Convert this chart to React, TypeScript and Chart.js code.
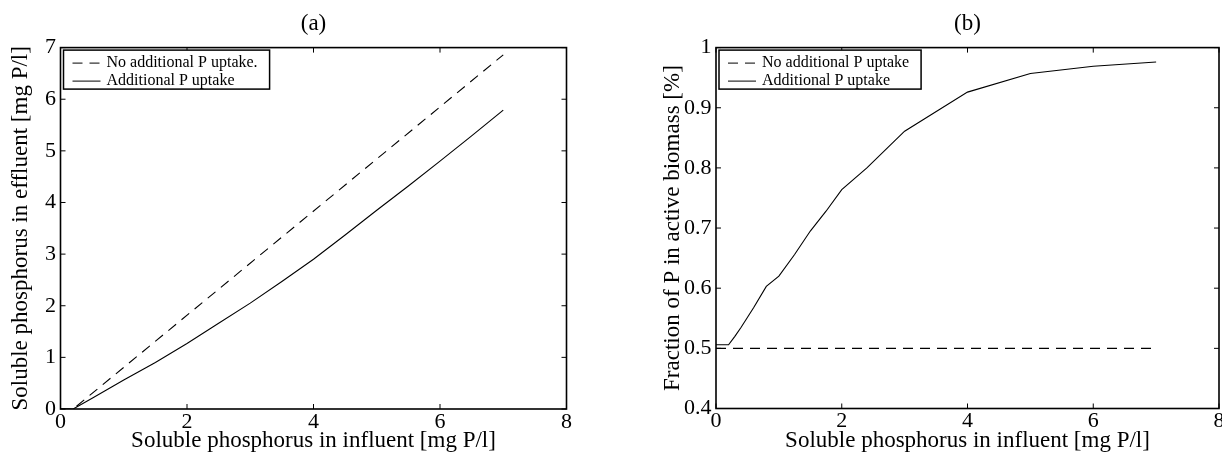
import React, { useEffect, useRef } from "react";
import { Chart, registerables } from "chart.js";

Chart.register(...registerables);

const FONT = "'Liberation Serif', 'Times New Roman', Times, serif";

// ---------- Panel (a) ----------
const titleA = "(a)";
const xLabelA = "Soluble phosphorus in influent [mg P/l]";
const yLabelA = "Soluble phosphorus in effluent [mg P/l]";
const legendA = ["No additional P uptake.", "Additional P uptake"];
const influentNoUptakeA = [0, 0.2, 7];
const effluentNoUptakeA = [0, 0, 6.86];
const influentUptakeA = [0, 0.2, 0.5, 1, 1.5, 2, 2.5, 3, 3.5, 4, 4.5, 5, 5.5, 6, 6.5, 7];
const effluentUptakeA = [0, 0, 0.21, 0.56, 0.9, 1.27, 1.66, 2.05, 2.47, 2.9, 3.37, 3.85, 4.32, 4.8, 5.29, 5.79];
const xRangeA = [0, 8, 2];
const yRangeA = [0, 7, 1];

// ---------- Panel (b) ----------
const titleB = "(b)";
const xLabelB = "Soluble phosphorus in influent [mg P/l]";
const yLabelB = "Fraction of P in active biomass [%]";
const legendB = ["No additional P uptake", "Additional P uptake"];
const influentNoUptakeB = [0, 7];
const fractionNoUptakeB = [0.5, 0.5];
const influentUptakeB = [0, 0.2, 0.3, 0.4, 0.6, 0.8, 1, 1.25, 1.5, 1.75, 2, 2.4, 3, 4, 5, 6, 7];
const fractionUptakeB = [0.506, 0.506, 0.52, 0.535, 0.568, 0.603, 0.62, 0.656, 0.695, 0.728, 0.764, 0.8, 0.861, 0.926, 0.957, 0.969, 0.976];
const xRangeB = [0, 8, 2];
const yRangeB = [0.4, 1, 0.1];

const toPoints = (xs: number[], ys: number[]) => xs.map((x, i) => ({ x, y: ys[i] }));

const framePlugin = {
  id: "frame",
  afterDraw(chart: any) {
    const { ctx, chartArea: a, scales } = chart;
    ctx.save();
    ctx.strokeStyle = "#000";
    // inward ticks
    ctx.lineWidth = 1;
    const L = 5;
    ctx.beginPath();
    scales.x.ticks.forEach((t: any) => {
      const px = scales.x.getPixelForValue(t.value);
      ctx.moveTo(px, a.bottom);
      ctx.lineTo(px, a.bottom - L);
      ctx.moveTo(px, a.top);
      ctx.lineTo(px, a.top + L);
    });
    scales.y.ticks.forEach((t: any) => {
      const py = scales.y.getPixelForValue(t.value);
      ctx.moveTo(a.left, py);
      ctx.lineTo(a.left + L, py);
      ctx.moveTo(a.right, py);
      ctx.lineTo(a.right - L, py);
    });
    ctx.stroke();
    // frame
    ctx.lineWidth = 1.6;
    ctx.strokeRect(a.left, a.top, a.right - a.left, a.bottom - a.top);

    // legend box
    const ds = chart.data.datasets;
    ctx.font = `16px ${FONT}`;
    const maxW = Math.max(...ds.map((d: any) => ctx.measureText(d.label).width));
    const bx = a.left + 3;
    const by = a.top + 2.5;
    const bw = 43 + maxW + 12;
    const bh = 39;
    ctx.fillStyle = "#fff";
    ctx.fillRect(bx, by, bw, bh);
    ctx.lineWidth = 1.5;
    ctx.strokeRect(bx, by, bw, bh);
    ds.forEach((d: any, i: number) => {
      const ry = by + 13 + i * 18;
      ctx.beginPath();
      ctx.lineWidth = 1;
      ctx.setLineDash(d.borderDash || []);
      ctx.moveTo(bx + 9, ry);
      ctx.lineTo(bx + 37, ry);
      ctx.stroke();
      ctx.setLineDash([]);
      ctx.fillStyle = "#000";
      ctx.textBaseline = "middle";
      ctx.textAlign = "left";
      ctx.fillText(d.label, bx + 43, ry);
    });
    ctx.restore();
  },
};

type PanelProps = {
  left: number;
  width: number;
  title: string;
  xLabel: string;
  yLabel: string;
  legend: string[];
  dashed: { x: number; y: number }[];
  solid: { x: number; y: number }[];
  xRange: number[];
  yRange: number[];
  yAxisWidth: number;
  xAxisHeight: number;
  padRight: number;
  yTitlePad: number;
};

function Panel(p: PanelProps) {
  const ref = useRef<HTMLCanvasElement>(null);
  useEffect(() => {
    if (!ref.current) return;
    const chart = new Chart(ref.current, {
      type: "line",
      data: {
        datasets: [
          {
            label: p.legend[0],
            data: p.dashed,
            borderColor: "#000",
            borderWidth: 1.1,
            borderDash: [10, 7],
            pointRadius: 0,
            tension: 0,
            fill: false,
          },
          {
            label: p.legend[1],
            data: p.solid,
            borderColor: "#000",
            borderWidth: 1.1,
            pointRadius: 0,
            tension: 0,
            fill: false,
          },
        ],
      },
      options: {
        responsive: false,
        animation: false,
        events: [],
        layout: { padding: { left: 0, right: p.padRight, top: 0, bottom: 0 } },
        plugins: {
          legend: { display: false },
          tooltip: { enabled: false },
          title: {
            display: true,
            text: p.title,
            color: "#000",
            fullSize: false,
            font: { family: FONT, size: 23, weight: "normal" },
            padding: { top: 10, bottom: 10 },
          },
        },
        scales: {
          x: {
            type: "linear",
            min: p.xRange[0],
            max: p.xRange[1],
            grid: { display: false, drawTicks: false },
            border: { display: false },
            ticks: {
              stepSize: p.xRange[2],
              color: "#000",
              padding: 0,
              maxRotation: 0,
              font: { family: FONT, size: 22 },
            },
            title: {
              display: true,
              text: p.xLabel,
              color: "#000",
              font: { family: FONT, size: 23 },
              padding: { top: 0, bottom: 0 },
            },
            afterFit: (s: any) => {
              s.height = p.xAxisHeight;
              s.paddingLeft = 0;
              s.paddingRight = 0;
            },
          },
          y: {
            type: "linear",
            min: p.yRange[0],
            max: p.yRange[1],
            grid: { display: false, drawTicks: false },
            border: { display: false },
            ticks: {
              stepSize: p.yRange[2],
              color: "#000",
              padding: 4.5,
              font: { family: FONT, size: 22 },
              callback: (v: any) => String(Math.round(Number(v) * 10) / 10),
            },
            title: {
              display: true,
              text: p.yLabel,
              color: "#000",
              font: { family: FONT, size: 23 },
              padding: { top: p.yTitlePad, bottom: 0 },
            },
            afterFit: (s: any) => {
              s.width = p.yAxisWidth;
              s.paddingTop = 0;
              s.paddingBottom = 0;
            },
          },
        },
      },
      plugins: [framePlugin],
    } as any);
    return () => chart.destroy();
  }, []);
  return (
    <canvas
      ref={ref}
      width={p.width}
      height={455}
      style={{ position: "absolute", left: p.left, top: 0, width: p.width, height: 455, display: "block" }}
    />
  );
}

export default function App() {
  return (
    <div
      style={{
        position: "fixed",
        left: 0,
        top: 0,
        width: 1222,
        height: 455,
        overflow: "hidden",
        background: "#fff",
      }}
    >
      <Panel
        left={0}
        width={610}
        title={titleA}
        xLabel={xLabelA}
        yLabel={yLabelA}
        legend={legendA}
        dashed={toPoints(influentNoUptakeA, effluentNoUptakeA)}
        solid={toPoints(influentUptakeA, effluentUptakeA)}
        xRange={xRangeA}
        yRange={yRangeA}
        yAxisWidth={60.5}
        xAxisHeight={46}
        padRight={43.5}
        yTitlePad={7}
      />
      <Panel
        left={610}
        width={612}
        title={titleB}
        xLabel={xLabelB}
        yLabel={yLabelB}
        legend={legendB}
        dashed={toPoints(influentNoUptakeB, fractionNoUptakeB)}
        solid={toPoints(influentUptakeB, fractionUptakeB)}
        xRange={xRangeB}
        yRange={yRangeB}
        yAxisWidth={106}
        xAxisHeight={46.5}
        padRight={3}
        yTitlePad={49}
      />
    </div>
  );
}
